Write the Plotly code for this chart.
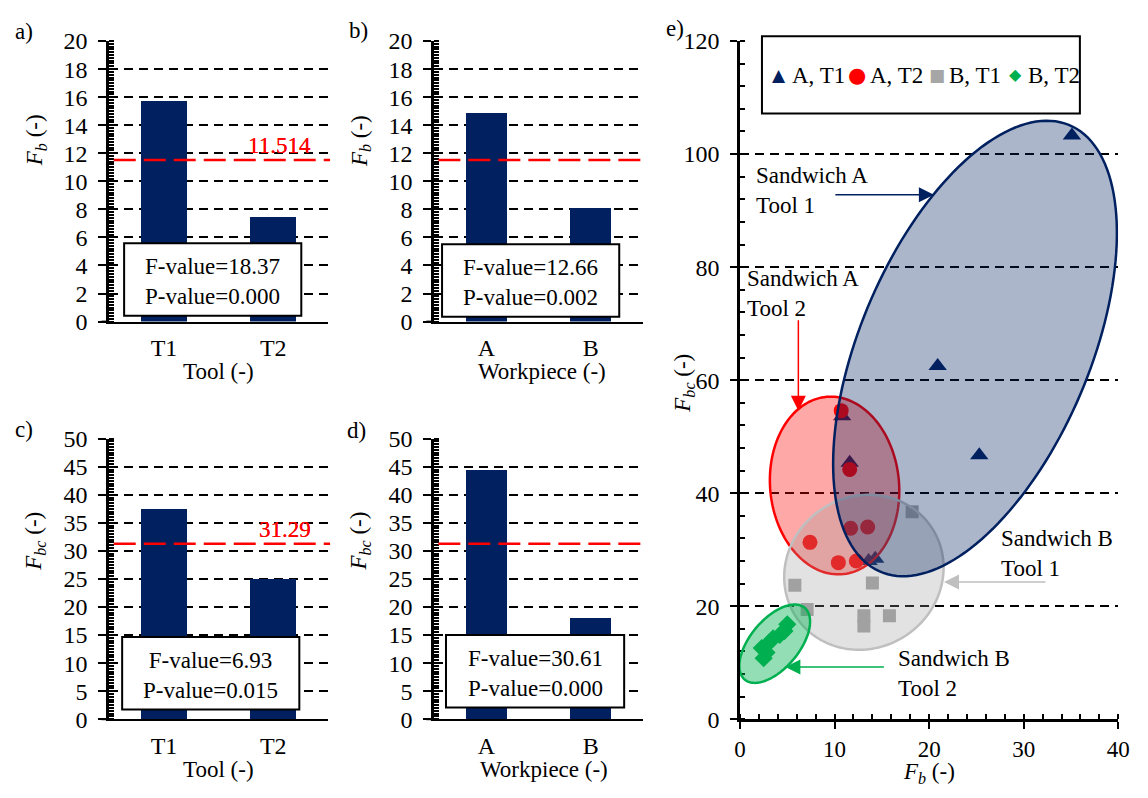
import numpy as np
import plotly.graph_objects as go

W, H = 1148, 798
FONT = "Liberation Serif"
FS = 23
NAVY = "#002060"
RED = "#FF0000"
GRAY = "#A6A6A6"
GREEN = "#00B050"

# ---- main-effect bar charts ----
tools = ["T1", "T2"]
workpieces = ["A", "B"]
fb_by_tool = [15.7, 7.45]
fb_by_workpiece = [14.9, 8.1]
fbc_by_tool = [37.5, 25.1]
fbc_by_workpiece = [44.4, 18.1]
fb_threshold = 11.514
fbc_threshold = 31.29
f_values = ["18.37", "12.66", "6.93", "30.61"]
p_values = ["0.000", "0.002", "0.015", "0.000"]

# ---- F_b vs F_bc scatter ----
a_t1_fb = [35.1, 20.9, 25.3, 11.6, 10.8, 13.6, 14.3]
a_t1_fbc = [103.3, 62.5, 46.7, 45.4, 53.6, 28.0, 28.4]
a_t2_fb = [10.7, 11.6, 7.4, 11.7, 13.5, 10.4, 12.3]
a_t2_fbc = [54.6, 44.2, 31.3, 33.8, 34.0, 27.7, 28.0]
b_t1_fb = [18.2, 5.8, 14.0, 7.1, 13.1, 13.1, 15.8]
b_t1_fbc = [36.7, 23.7, 24.1, 19.4, 18.3, 16.5, 18.3]
b_t2_fb = [2.5, 2.3, 2.8, 3.1, 3.5, 4.2, 4.7, 5.0]
b_t2_fbc = [10.8, 12.6, 11.8, 13.6, 14.3, 14.9, 15.6, 16.8]


def px(x):
    return x / W


def py(y):
    return 1 - y / H


# subplot frames in pixels: (left, right, top, bottom)
frames = {
    "a": (105, 327, 29, 319),
    "b": (435, 647, 29, 319),
    "c": (105, 327, 440, 730),
    "d": (435, 647, 440, 730),
    "e": (745.7, 1130, 29, 730),
}

fig = go.Figure()

bar_panels = [
    ("a", "x", "y", tools, fb_by_tool, fb_threshold, "11.514", 20, 2, 0.42),
    ("b", "x2", "y2", workpieces, fb_by_workpiece, fb_threshold, "11.514", 20, 2, 0.39),
    ("c", "x3", "y3", tools, fbc_by_tool, fbc_threshold, "31.29", 50, 5, 0.42),
    ("d", "x4", "y4", workpieces, fbc_by_workpiece, fbc_threshold, "31.29", 50, 5, 0.39),
]

shapes = []
annotations = []
tickfont = dict(family=FONT, size=24, color="black")

for i, (key, xa, ya, cats, vals, thr, thr_label, ymax, dt, bw) in enumerate(bar_panels):
    fig.add_trace(go.Bar(x=cats, y=vals, width=bw, xaxis=xa, yaxis=ya,
                         marker=dict(color=NAVY, line=dict(width=0)),
                         showlegend=False))
    l, r, t, b = frames[key]
    n = "" if i == 0 else str(i + 1)
    fig.layout["xaxis" + n] = dict(
        domain=[px(l), px(r)], anchor=ya, type="category", range=[-0.5, 1.5],
        showline=True, linecolor="black", linewidth=2, ticks="",
        tickfont=tickfont, ticklabelstandoff=4, showgrid=False, fixedrange=True)
    fig.layout["yaxis" + n] = dict(
        domain=[py(b), py(t)], anchor=xa, range=[0, ymax], tick0=0, dtick=dt,
        showline=True, linecolor="black", linewidth=3,
        ticks="outside", ticklen=8, tickwidth=2, tickcolor="black",
        tickfont=tickfont, ticklabelstandoff=6,
        showgrid=True, gridcolor="black", gridwidth=2, griddash="9px,6px",
        zeroline=False,
        minor=dict(dtick=dt / 10, ticks="inside", ticklen=5, tickwidth=1.5,
                   tickcolor="black", showgrid=False))
    # x-axis baseline continues under the outside tick at zero
    shapes.append(dict(type="line", xref="paper", yref="paper", x0=px(l - 8), x1=px(l),
                       y0=py(b), y1=py(b), line=dict(color="black", width=2)))
    # critical value line
    shapes.append(dict(type="line", xref=xa + " domain", yref=ya,
                       x0=0.02, x1=1.01, y0=thr, y1=thr, layer="above",
                       line=dict(color=RED, width=2.5, dash="22px,8px")))
    annotations.append(dict(xref=xa + " domain", yref=ya, x=(312 - l) / (r - l), y=thr,
                            xanchor="right", yanchor="bottom", showarrow=False,
                            text=thr_label, font=dict(family=FONT, size=FS, color=RED)))

# ANOVA result boxes
boxes = [(120, 300, 238, 313), (443, 623, 239, 314), (118, 298, 645, 720), (447, 628, 643, 718)]
for (x0, x1, y0, y1), fv, pv in zip(boxes, f_values, p_values):
    shapes.append(dict(type="rect", xref="paper", yref="paper",
                       x0=px(x0), x1=px(x1), y0=py(y1), y1=py(y0), layer="above",
                       fillcolor="white", line=dict(color="black", width=2)))
    annotations.append(dict(xref="paper", yref="paper", x=px((x0 + x1) / 2), y=py((y0 + y1) / 2 + 2),
                            xanchor="center", yanchor="middle", showarrow=False,
                            text=f"F-value={fv}<br>P-value={pv}",
                            font=dict(family=FONT, size=FS, color="black")))

# ---- scatter panel ----
scatter_sets = [
    (a_t1_fb, a_t1_fbc, "triangle-up", 16, NAVY, "A, T1"),
    (a_t2_fb, a_t2_fbc, "circle", 15, RED, "A, T2"),
    (b_t1_fb, b_t1_fbc, "square", 13, GRAY, "B, T1"),
    (b_t2_fb, b_t2_fbc, "diamond", 14, GREEN, "B, T2"),
]
for xs, ys, sym, size, col, name in scatter_sets:
    fig.add_trace(go.Scatter(x=xs, y=ys, mode="markers", name=name, xaxis="x5", yaxis="y5",
                             marker=dict(symbol=sym, size=size, color=col, line=dict(width=0)),
                             showlegend=False))

l, r, t, b = frames["e"]
fig.layout["xaxis5"] = dict(
    domain=[px(l), px(r)], anchor="y5", range=[0, 40], tick0=0, dtick=10,
    showline=True, linecolor="black", linewidth=2.5,
    ticks="outside", ticklen=7, tickwidth=2, tickcolor="black",
    tickfont=dict(family=FONT, size=23, color="black"), ticklabelstandoff=0,
    showgrid=False, zeroline=False,
    minor=dict(dtick=2, ticks="inside", ticklen=5, tickwidth=1.5, tickcolor="black", showgrid=False))
fig.layout["yaxis5"] = dict(
    domain=[py(b), py(t)], anchor="x5", range=[0, 120], tick0=0, dtick=20,
    showline=True, linecolor="black", linewidth=2.5,
    ticks="outside", ticklen=7, tickwidth=2, tickcolor="black",
    tickfont=tickfont, ticklabelstandoff=6,
    showgrid=True, gridcolor="black", gridwidth=2, griddash="9px,6px", zeroline=False,
    minor=dict(dtick=4, ticks="inside", ticklen=5, tickwidth=1.5, tickcolor="black", showgrid=False))

# pixels per data unit in the scatter panel
sx = (r - l) / 40.0
sy = (b - t) / 120.0


def ellipse_path(cx, cy, a_px, b_px, ang_deg, n=160):
    th = np.radians(ang_deg)
    tt = np.linspace(0, 2 * np.pi, n)
    X = a_px * np.cos(tt) * np.cos(th) - b_px * np.sin(tt) * np.sin(th)
    Y = a_px * np.cos(tt) * np.sin(th) + b_px * np.sin(tt) * np.cos(th)
    xs = cx + X / sx
    ys = cy + Y / sy
    return "M " + " L ".join(f"{u:.3f},{v:.3f}" for u, v in zip(xs, ys)) + " Z"


# cluster outlines: centre in data units, semi-axes in px, tilt in degrees
clusters = [
    (10.0, 41.35, 92, 65.5, 95, "rgba(255,0,0,0.34)", RED),
    (13.1, 26.0, 83, 78, 40, "rgba(150,150,150,0.28)", "#BFBFBF"),
    (24.85, 65.6, 250, 117, 67.6, "rgba(0,32,96,0.33)", NAVY),
    (3.67, 13.36, 48, 25, 51, "rgba(0,176,80,0.42)", GREEN),
]
for cx, cy, a_px, b_px, ang, fill, line in clusters:
    shapes.append(dict(type="path", xref="x5", yref="y5", path=ellipse_path(cx, cy, a_px, b_px, ang),
                       fillcolor=fill, line=dict(color=line, width=2.5), layer="above"))

# legend frame
shapes.append(dict(type="rect", xref="paper", yref="paper", x0=px(768), x1=px(1091),
                   y0=py(104), y1=py(24), fillcolor="white", line=dict(color="black", width=2),
                   layer="above"))
legend_items = [
    (785, "\u25B2", 17, NAVY, 796, "A, T1"),
    (865, "\u25CF", 21, RED, 876, "A, T2"),
    (946, "\u25A0", 17, GRAY, 956, "B, T1"),
    (1026, "\u25C6", 16, GREEN, 1036, "B, T2"),
]
for sxp, sym, ssize, col, txp, label in legend_items:
    annotations.append(dict(xref="paper", yref="paper", x=px(sxp), y=py(64), xanchor="center",
                            yanchor="middle", showarrow=False, text=sym,
                            font=dict(family="DejaVu Sans", size=ssize, color=col)))
    annotations.append(dict(xref="paper", yref="paper", x=px(txp), y=py(65), xanchor="left",
                            yanchor="middle", showarrow=False, text=label,
                            font=dict(family=FONT, size=FS, color="black")))

# cluster labels with arrows
cluster_labels = [
    (760, 183, "Sandwich A<br>Tool 1"),
    (751, 290, "Sandwich A<br>Tool 2"),
    (1009, 559, "Sandwich B<br>Tool 1"),
    (904, 683, "Sandwich B<br>Tool 2"),
]
for xp, yp, txt in cluster_labels:
    annotations.append(dict(xref="paper", yref="paper", x=px(xp), y=py(yp), xanchor="left",
                            yanchor="middle", align="left", showarrow=False, text=txt,
                            font=dict(family=FONT, size=FS, color="black")))

arrows = [
    (20.5, 92.8, -100, 0, NAVY),
    (6.17, 54.6, 0, -92, RED),
    (21.57, 24.3, 103, 0, "#BFBFBF"),
    (4.8, 9.25, 100, 0, GREEN),
]
for ax_, ay_, dx, dy, col in arrows:
    annotations.append(dict(xref="x5", yref="y5", x=ax_, y=ay_, ax=dx, ay=dy,
                            axref="pixel", ayref="pixel", text="", showarrow=True,
                            arrowhead=2, arrowsize=2, arrowwidth=1.5, arrowcolor=col))

# axis titles
title_font = dict(family=FONT, size=FS, color="black")
for xp, yp, txt in [(216, 371, "Tool (-)"), (545, 371, "Workpiece (-)"),
                    (216, 782, "Tool (-)"), (547, 782, "Workpiece (-)"),
                    (938, 786, "<i>F<sub>b</sub></i> (-)")]:
    annotations.append(dict(xref="paper", yref="paper", x=px(xp), y=py(yp), xanchor="center",
                            yanchor="middle", showarrow=False, text=txt, font=title_font))
for xp, yp, txt in [(30, 132, "<i>F<sub>b</sub></i> (-)"), (360, 132, "<i>F<sub>b</sub></i> (-)"),
                    (30, 546, "<i>F<sub>bc</sub></i> (-)"), (360, 546, "<i>F<sub>bc</sub></i> (-)"),
                    (688, 383, "<i>F<sub>bc</sub></i> (-)")]:
    annotations.append(dict(xref="paper", yref="paper", x=px(xp), y=py(yp), xanchor="center",
                            yanchor="middle", showarrow=False, text=txt, textangle=-90,
                            font=title_font))
# panel letters
for xp, yp, txt in [(18, 19, "a)"), (358, 18, "b)"), (18, 431, "c)"), (356, 432, "d)"), (680, 16, "e)")]:
    annotations.append(dict(xref="paper", yref="paper", x=px(xp), y=py(yp), xanchor="center",
                            yanchor="middle", showarrow=False, text=txt, font=title_font))

fig.update_layout(
    width=W, height=H, margin=dict(l=0, r=0, t=0, b=0),
    paper_bgcolor="white", plot_bgcolor="white",
    shapes=shapes, annotations=annotations, showlegend=False, bargap=0,
)

fig.write_html("out.html")
